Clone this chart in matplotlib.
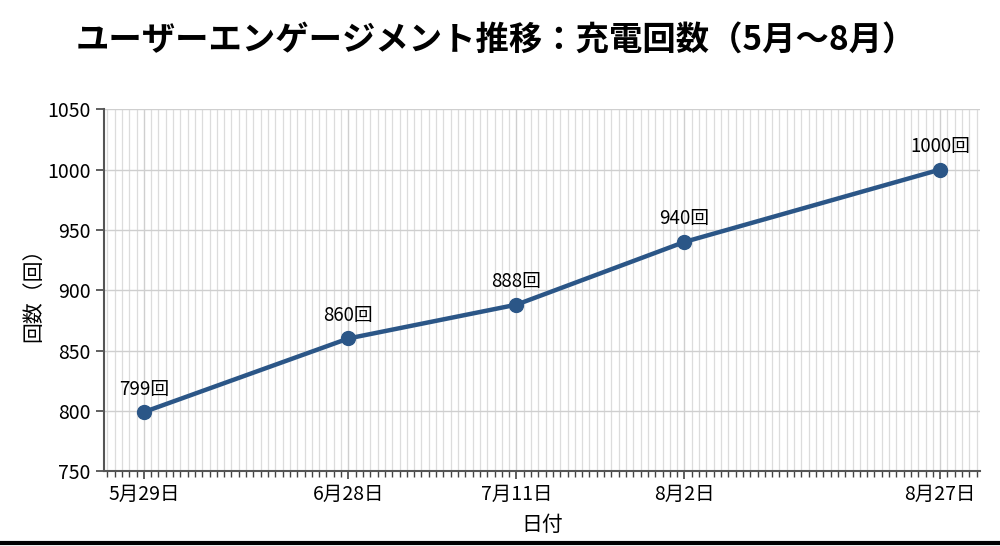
import matplotlib.pyplot as plt
import matplotlib.lines as mlines
from matplotlib.ticker import MultipleLocator
import numpy as np

plt.rcParams['font.family'] = ['Noto Sans CJK JP', 'DejaVu Sans']

# data (x = position along the axis in day-units)
day_offsets = [0, 28, 51, 74, 109]
tick_labels = ['5月29日', '6月28日', '7月11日', '8月2日', '8月27日']
counts = [799, 860, 888, 940, 1000]

fig = plt.figure(figsize=(10, 5.46), dpi=100)
ax = fig.add_axes([0.104, 0.137, 0.876, 0.663])

ax.plot(day_offsets, counts, color='#2b5687', linewidth=3.2, marker='o',
        markersize=10, zorder=3)
for xi, yi in zip(day_offsets, counts):
    ax.annotate(f'{yi}回', (xi, yi), xytext=(0, 9), textcoords='offset points',
                ha='center', va='bottom', fontsize=13.5)

ax.set_ylim(750, 1050)
ax.set_yticks(np.arange(750, 1051, 50))
ax.set_xticks(day_offsets)
ax.set_xticklabels(tick_labels)
ax.xaxis.set_minor_locator(MultipleLocator(1))
ax.margins(x=0.05)

ax.grid(True, which='major', color='#cfcfcf', linewidth=1)
ax.grid(True, which='minor', axis='x', color='#dcdcdc', linewidth=0.9)
ax.set_axisbelow(True)

ax.tick_params(axis='both', which='major', labelsize=14, length=6, width=1.2,
               color='#444444')
ax.tick_params(axis='x', which='minor', length=4, width=1, color='#444444')
for s in ['top', 'right']:
    ax.spines[s].set_visible(False)
for s in ['left', 'bottom']:
    ax.spines[s].set_color('#555555')
    ax.spines[s].set_linewidth(1.5)

ax.set_xlabel('日付', fontsize=15, labelpad=6)
ax.set_ylabel('回数（回）', fontsize=15, labelpad=2)
fig.suptitle('ユーザーエンゲージメント推移：充電回数（5月〜8月）', fontsize=24,
             fontweight='bold', x=0.496, y=0.956)

fig.add_artist(mlines.Line2D([0, 1], [0.006, 0.006], color='black', linewidth=3,
                             transform=fig.transFigure))

fig.savefig('out.png', dpi=100, facecolor='white')
